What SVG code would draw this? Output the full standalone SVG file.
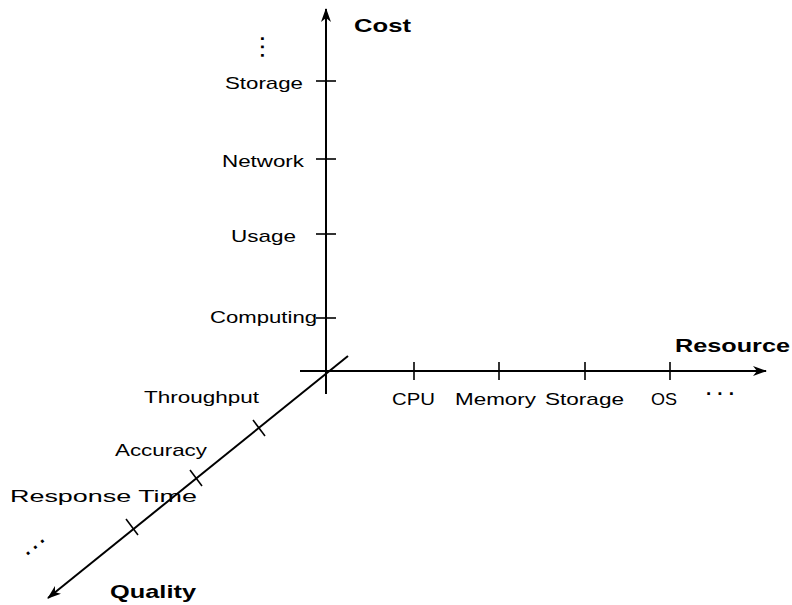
<svg xmlns="http://www.w3.org/2000/svg" width="792" height="605" viewBox="0 0 792 605">
<style>
.ax{stroke:#000;stroke-width:2;fill:none}
.tk{stroke:#000;stroke-width:1.6}
.lb{font-family:"Liberation Sans",Arial,sans-serif;font-size:17px;fill:#000}
.dt{font-family:"Liberation Sans",Arial,sans-serif;font-size:19px;font-weight:bold;fill:#000}
.tt{font-family:"Liberation Sans",Arial,sans-serif;font-size:19px;font-weight:bold;fill:#000}
</style>
<defs>
<marker id="ar" markerWidth="14" markerHeight="10" refX="13" refY="5" orient="auto" markerUnits="userSpaceOnUse">
<path d="M0,0 L14,5 L0,10 L4,5 Z" fill="#000"/>
</marker>
</defs>
<rect width="792" height="605" fill="#fff"/>
<g id="connectors">
<line class="ax" x1="326" y1="394" x2="326" y2="9" marker-end="url(#ar)"/>
<line class="ax" x1="300" y1="371" x2="766" y2="371" marker-end="url(#ar)"/>
<line class="ax" x1="348" y1="356" x2="48" y2="598" marker-end="url(#ar)"/>
</g>
<g id="cost-axis">
<line class="tk" x1="316" y1="81" x2="336" y2="81"/>
<line class="tk" x1="316" y1="159" x2="336" y2="159"/>
<line class="tk" x1="316" y1="234" x2="336" y2="234"/>
<line class="tk" x1="316" y1="318" x2="336" y2="318"/>
<text class="tt" x="354" y="32" textLength="57" lengthAdjust="spacingAndGlyphs">Cost</text>
<text class="lb" x="225" y="89" textLength="78" lengthAdjust="spacingAndGlyphs">Storage</text>
<text class="lb" x="222" y="167" textLength="82" lengthAdjust="spacingAndGlyphs">Network</text>
<text class="lb" x="231" y="242" textLength="65" lengthAdjust="spacingAndGlyphs">Usage</text>
<text class="lb" x="210" y="323" textLength="107" lengthAdjust="spacingAndGlyphs">Computing</text>
<text class="dt" x="0" y="0" transform="translate(261,36) rotate(90)" textLength="22" lengthAdjust="spacing">...</text>
</g>
<g id="resource-axis">
<line class="tk" x1="414" y1="362" x2="414" y2="380"/>
<line class="tk" x1="499" y1="362" x2="499" y2="380"/>
<line class="tk" x1="585" y1="362" x2="585" y2="380"/>
<line class="tk" x1="670" y1="362" x2="670" y2="380"/>
<text class="tt" x="675" y="352" textLength="115" lengthAdjust="spacingAndGlyphs">Resource</text>
<text class="lb" x="392" y="405" textLength="43" lengthAdjust="spacingAndGlyphs">CPU</text>
<text class="lb" x="455" y="405" textLength="81" lengthAdjust="spacingAndGlyphs">Memory</text>
<text class="lb" x="545" y="405" textLength="79" lengthAdjust="spacingAndGlyphs">Storage</text>
<text class="lb" x="651" y="405" textLength="26" lengthAdjust="spacingAndGlyphs">OS</text>
<text class="dt" x="706" y="395" textLength="28" lengthAdjust="spacing">...</text>
</g>
<g id="quality-axis">
<line class="tk" x1="253" y1="420" x2="265" y2="436"/>
<line class="tk" x1="190" y1="470" x2="202" y2="486"/>
<line class="tk" x1="126" y1="519" x2="138" y2="535"/>
<text class="tt" x="110" y="598" textLength="86" lengthAdjust="spacingAndGlyphs">Quality</text>
<text class="lb" x="144" y="403" textLength="115" lengthAdjust="spacingAndGlyphs">Throughput</text>
<text class="lb" x="115" y="456" textLength="92" lengthAdjust="spacingAndGlyphs">Accuracy</text>
<text class="lb" x="10" y="502" textLength="187" lengthAdjust="spacingAndGlyphs">Response Time</text>
<text class="dt" x="0" y="0" transform="translate(27,556) rotate(-40)" textLength="24" lengthAdjust="spacing">...</text>
</g>
</svg>
